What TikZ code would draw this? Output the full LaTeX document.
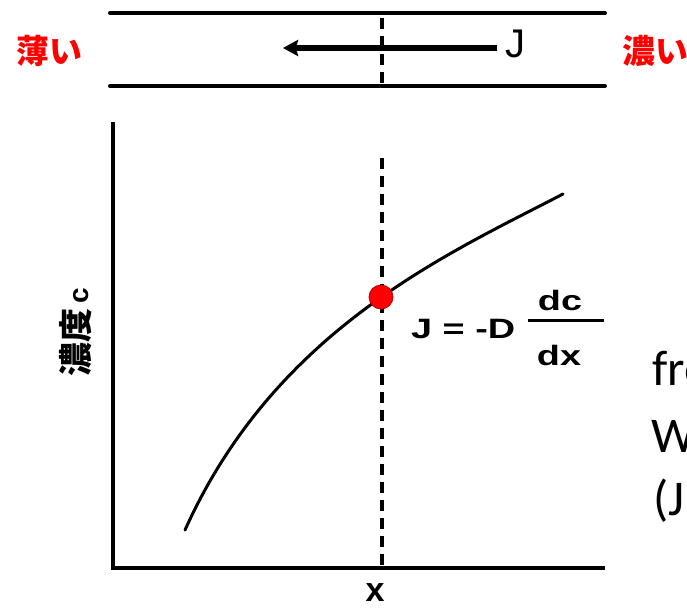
\documentclass[tikz,border=0pt]{standalone}
\usepackage{fontspec}
\usepackage{graphicx}
\setmainfont{Liberation Sans}
\newfontfamily\jpfont{Noto Sans CJK JP}
\newfontfamily\calfont{Carlito}
\usetikzlibrary{arrows.meta}
\begin{document}
\begin{tikzpicture}[x=1pt,y=-1pt,
  wall/.style={line width=4pt,line cap=round},
  axisline/.style={line width=4pt},
  guide/.style={line width=3.5pt,dash pattern=on 11pt off 7pt},
  jplabel/.style={font=\jpfont\bfseries\fontsize{33}{36}\selectfont,text=red,inner sep=0pt,anchor=west},
  formula/.style={font=\bfseries\fontsize{28}{30}\selectfont,inner sep=0pt},
  credit/.style={font=\calfont\fontsize{50}{56}\selectfont,inner sep=0pt,anchor=base west},
  dot/.style={circle,fill=red,draw=red!75!black,line width=0.8pt,minimum size=24pt,inner sep=0pt}
]
\useasboundingbox (0,0) rectangle (687,608);
\clip (0,0) rectangle (687,608);

% channel
\coordinate (w1a) at (110,13);
\coordinate (w1b) at (605,13);
\coordinate (w2a) at (110,86);
\coordinate (w2b) at (605,86);
\draw[wall] (w1a) -- (w1b);
\draw[wall] (w2a) -- (w2b);
\coordinate (g1a) at (382,18);
\coordinate (g1b) at (382,86);
\draw[guide] (g1a) -- (g1b);
\coordinate (arS) at (497,48);
\coordinate (arE) at (283,48);
\draw[line width=6pt,-{Stealth[length=15pt,width=16pt,inset=2pt]}] (arS) -- (arE);
\node[font=\fontsize{40}{42}\selectfont,inner sep=0pt,anchor=base] (jtop) at (515,57) {J};
\node[jplabel] (thin) at (16,51) {薄い};
\node[jplabel] (thick) at (622,51) {濃い};

% axes
\coordinate (ytop) at (113,122);
\coordinate (orig) at (113,568);
\coordinate (xend) at (605,568);
\draw[axisline] (ytop) -- (orig) -- (xend);
\coordinate (g2a) at (382,158);
\coordinate (g2b) at (382,568);
\draw[guide] (g2a) -- (g2b);

% curve
\coordinate (cs) at (185,530);
\coordinate (ce) at (563,194);
\draw[line width=3pt,line cap=round] (cs) .. controls (275.5,329) and (448.5,253.7) .. (ce);
\node[dot] (pt) at (381,297) {};

% formula
\node[formula,anchor=base west] (jd) at (411,338) {\scalebox{1.35}[1]{J = -D}};
\coordinate (fbA) at (528,320);
\coordinate (fbB) at (604,320);
\draw[line width=3pt] (fbA) -- (fbB);
\node[formula,anchor=base] (dc) at (560,310) {\scalebox{1.35}[1]{dc}};
\node[formula,anchor=base] (dx) at (559,365) {\scalebox{1.35}[1]{dx}};

% labels
\node[rotate=90,inner sep=0pt] (ylab) at (76,332) {{\jpfont\bfseries\fontsize{34}{36}\selectfont 濃度}\,\,\,{\bfseries\fontsize{28}{30}\selectfont c}};
\node[inner sep=0pt,font=\bfseries\fontsize{34}{36}\selectfont] (xlab) at (375,593) {x};

% cut-off credit text
\node[credit] (cr1) at (652,385) {fro};
\node[credit] (cr2) at (651,452) {W};
\node[credit] (cr3) at (653,515) {(J};
\end{tikzpicture}
\end{document}
